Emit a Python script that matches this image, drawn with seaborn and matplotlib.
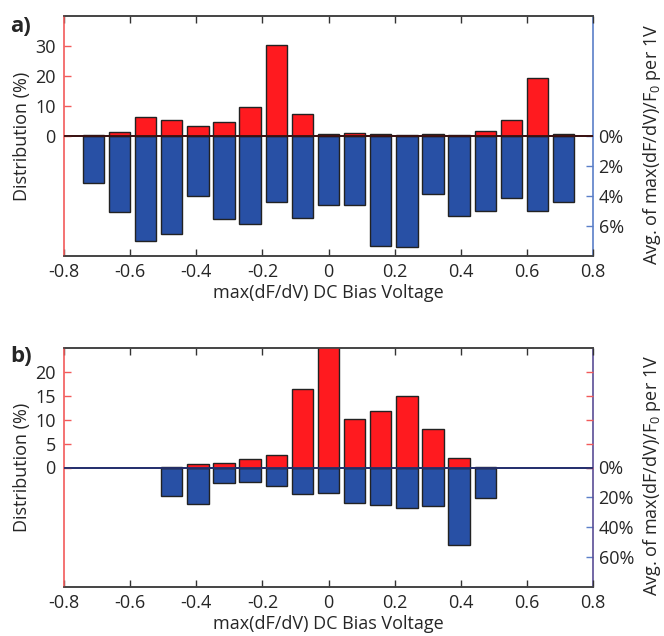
import numpy as np
import pandas as pd
import matplotlib
matplotlib.use("Agg")
import matplotlib.pyplot as plt
import seaborn as sns

sns.set_style("white")
plt.rcParams["font.family"] = ["Open Sans", "DejaVu Sans"]
plt.rcParams["mathtext.default"] = "regular"

# Bin centres (V) of the DC bias histogram
bias_a = [-0.711, -0.632, -0.553, -0.474, -0.395, -0.316, -0.237, -0.158, -0.079, 0.0,
          0.079, 0.158, 0.237, 0.316, 0.395, 0.474, 0.553, 0.632, 0.711]
dist_a = [0.3, 1.3, 6.3, 5.4, 3.4, 4.8, 9.7, 30.4, 7.3, 0.8,
          1.1, 0.7, 0.5, 0.6, 0.3, 1.7, 5.2, 19.4, 0.8]
resp_a = [3.1, 5.08, 6.99, 6.56, 3.98, 5.55, 5.89, 4.40, 5.48, 4.63,
          4.61, 7.30, 7.39, 3.87, 5.30, 4.97, 4.16, 5.01, 4.43]

bias_b = [-0.474, -0.395, -0.316, -0.237, -0.158, -0.079, 0.0,
          0.079, 0.158, 0.237, 0.316, 0.395, 0.474]
dist_b = [0.2, 0.63, 0.9, 1.75, 2.6, 16.35, 27.0,
          10.2, 11.9, 14.95, 8.1, 1.96, 0.1]
resp_b = [18.8, 24.3, 10.6, 9.5, 12.2, 17.9, 16.8,
          24.1, 25.2, 26.8, 25.9, 52.0, 20.6]

x_ticks = [-0.8, -0.6, -0.4, -0.2, 0, 0.2, 0.4, 0.6, 0.8]
x_ticklabels = ["-0.8", "-0.6", "-0.4", "-0.2", "0", "0.2", "0.4", "0.6", "0.8"]

RED = "#ff1a1f"
BLUE = "#2850a5"
EDGE = "#222222"
SPINE_RED = "#f25a5a"
SPINE_BLUE = "#5b7fc8"
FS = 13

fig = plt.figure(figsize=(6.64, 6.36), dpi=100)
W, H = 664, 636


def panel(rect, bias, dist, resp, ylim_l, yticks_l, ylim_r, yticks_r, rlabels,
          letter, letter_y, zero_color, right_spine_color, mirror_left):
    ax = fig.add_axes(rect)
    ax2 = ax.twinx()
    df = pd.DataFrame({"bias": bias, "dist": dist, "resp": resp})
    sns.barplot(data=df, x="bias", y="dist", native_scale=True, width=0.82,
                color=RED, saturation=1, edgecolor=EDGE, linewidth=1.0, ax=ax)
    sns.barplot(data=df, x="bias", y="resp", native_scale=True, width=0.82,
                color=BLUE, saturation=1, edgecolor=EDGE, linewidth=1.0, ax=ax2)
    ax.set_xlim(-0.8, 0.8)
    ax2.set_xlim(-0.8, 0.8)
    ax.set_ylim(*ylim_l)
    ax2.set_ylim(*ylim_r)
    ax.set_xticks(x_ticks)
    ax.set_xticklabels(x_ticklabels, fontsize=FS)
    ax.set_yticks(yticks_l)
    ax.set_yticklabels([str(t) for t in yticks_l], fontsize=FS)
    ax2.set_yticks(yticks_r)
    ax2.set_yticklabels(rlabels, fontsize=FS)
    ax.axhline(0, color=zero_color, lw=1.3, zorder=5)
    ax2.axhline(0, color=zero_color, lw=1.3, zorder=5)

    ax.tick_params(axis="x", direction="in", length=5, width=1, color="#333333",
                   top=True, bottom=True, pad=5)
    ax.tick_params(axis="y", direction="in", length=5, width=1, color=SPINE_RED,
                   left=True, right=mirror_left, labelright=False, pad=6)
    ax2.tick_params(axis="y", direction="in", length=5, width=1, color=SPINE_BLUE,
                    right=True, pad=4)
    ax2.tick_params(axis="x", top=False, bottom=False)

    for a in (ax, ax2):
        a.spines["top"].set_color("#444444")
        a.spines["bottom"].set_color("#444444")
        for s in a.spines.values():
            s.set_linewidth(1.2)
    ax.spines["left"].set_color(SPINE_RED)
    ax2.spines["left"].set_visible(False)
    ax.spines["right"].set_visible(False)
    ax2.spines["right"].set_color(right_spine_color)

    ax.set_xlabel("max(dF/dV) DC Bias Voltage", fontsize=FS, labelpad=2)
    ax.set_ylabel("Distribution (%)", fontsize=FS, labelpad=3)
    ax2.set_ylabel("Avg. of max(dF/dV)/F$_0$ per 1V", fontsize=13)
    ax2.yaxis.set_label_coords(1.0 + (641 - 593) / 529, 0.5 - 8 / 240)
    ax.set_zorder(ax2.get_zorder() + 1)
    ax.patch.set_visible(False)
    fig.text(10 / W, 1 - letter_y / H, letter, fontsize=16,
             fontweight="bold", ha="left", va="center")
    return ax, ax2


panel([64 / W, 1 - 256 / H, 529 / W, 240 / H], bias_a, dist_a, resp_a,
      (-40, 40), [0, 10, 20, 30], (8, -8), [0, 2, 4, 6],
      ["0%", "2%", "4%", "6%"], "a)", 26, "#3a1212", SPINE_BLUE, False)

panel([64 / W, 1 - 587 / H, 529 / W, 239 / H], bias_b, dist_b, resp_b,
      (-25, 25), [0, 5, 10, 15, 20], (80, -80), [0, 20, 40, 60],
      ["0%", "20%", "40%", "60%"], "b)", 357, "#24306e", "#5a4e96", True)

fig.savefig("out.png", dpi=100)
